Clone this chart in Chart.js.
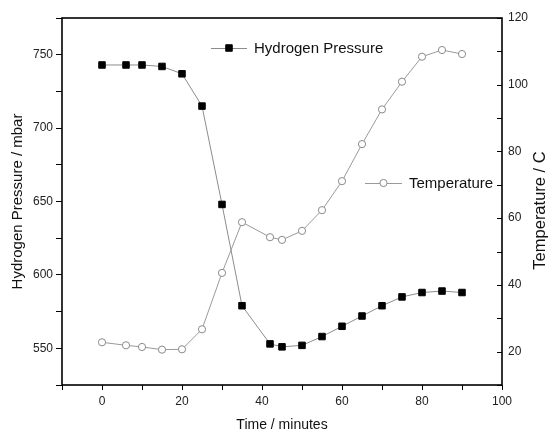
<!DOCTYPE html>
<html>
<head>
<meta charset="utf-8">
<script src="https://cdn.jsdelivr.net/npm/chart.js@4/dist/chart.umd.min.js"></script>
<style>
html,body{margin:0;padding:0;background:#fff;}
canvas{display:block;}
</style>
</head>
<body>
<canvas id="c" width="549" height="432"></canvas>
<script>
const time = [0, 6, 10, 15, 20, 25, 30, 35, 42, 45, 50, 55, 60, 65, 70, 75, 80, 85, 90];
const pressure = [743, 743, 743, 742, 737, 715, 648, 579, 553, 551, 552, 558, 565, 572, 579, 585, 588, 589, 588];
const temperature = [22.8, 21.9, 21.4, 20.6, 20.7, 26.7, 43.6, 58.8, 54.3, 53.5, 56.2, 62.4, 71.1, 82.2, 92.6, 100.9, 108.4, 110.4, 109.2];
const seriesNames = ['Hydrogen Pressure', 'Temperature'];
const axisTitles = {x: 'Time / minutes', y: 'Hydrogen Pressure / mbar', y1: 'Temperature / C'};

const FONT = "'Liberation Sans', Arial, sans-serif";

const framePlugin = {
  id: 'frame',
  afterDraw(chart) {
    const ctx = chart.ctx, a = chart.chartArea;
    ctx.save();
    // inward ticks for right axis
    const s = chart.scales.y1;
    ctx.strokeStyle = '#000';
    ctx.lineWidth = 1;
    s.ticks.forEach(t => {
      const py = Math.round(s.getPixelForValue(t.value)) + 0.5;
      ctx.beginPath();
      ctx.moveTo(a.right - 5, py);
      ctx.lineTo(a.right, py);
      ctx.stroke();
    });
    ctx.lineWidth = 1.6;
    ctx.strokeRect(a.left, a.top, a.right - a.left, a.bottom - a.top);
    // right axis title, reading bottom-to-top
    ctx.translate(s.right - 9, (a.top + a.bottom) / 2 + 9);
    ctx.rotate(-Math.PI / 2);
    ctx.fillStyle = '#111';
    ctx.font = '16.5px ' + FONT;
    ctx.textAlign = 'center';
    ctx.textBaseline = 'middle';
    ctx.fillText(axisTitles.y1, 0, 0);
    ctx.restore();
  }
};

const legendPlugin = {
  id: 'customLegend',
  afterDatasetsDraw(chart, args, opts) {
    const ctx = chart.ctx;
    ctx.save();
    opts.items.forEach((it) => {
      const ds = chart.data.datasets[it.index];
      ctx.strokeStyle = ds.borderColor;
      ctx.lineWidth = 1;
      ctx.beginPath();
      ctx.moveTo(it.x1, it.y + 0.5);
      ctx.lineTo(it.x2, it.y + 0.5);
      ctx.stroke();
      const cx = (it.x1 + it.x2) / 2;
      ctx.fillStyle = ds.pointBackgroundColor;
      ctx.strokeStyle = ds.pointBorderColor;
      ctx.lineWidth = ds.pointBorderWidth;
      ctx.beginPath();
      if (ds.pointStyle === 'rect') {
        const h = ds.pointRadius * Math.SQRT1_2;
        ctx.rect(cx - h, it.y - h, 2 * h, 2 * h);
      } else {
        ctx.arc(cx, it.y, ds.pointRadius, 0, Math.PI * 2);
      }
      ctx.fill();
      ctx.stroke();
      ctx.fillStyle = '#111';
      ctx.font = '15px ' + FONT;
      ctx.textBaseline = 'middle';
      ctx.textAlign = 'left';
      ctx.fillText(ds.label, it.tx, it.y + 1);
    });
    ctx.restore();
  }
};

new Chart(document.getElementById('c'), {
  type: 'line',
  data: {
    datasets: [
      {
        label: seriesNames[0],
        data: time.map((t, i) => ({x: t, y: pressure[i]})),
        yAxisID: 'y',
        borderColor: '#8c8c8c',
        borderWidth: 1,
        pointStyle: 'rect',
        pointRadius: 4.6,
        pointBorderWidth: 1,
        pointBackgroundColor: '#000',
        pointBorderColor: '#000',
        tension: 0
      },
      {
        label: seriesNames[1],
        data: time.map((t, i) => ({x: t, y: temperature[i]})),
        yAxisID: 'y1',
        borderColor: '#9a9a9a',
        borderWidth: 1,
        pointStyle: 'circle',
        pointRadius: 3.6,
        pointBorderWidth: 1,
        pointBackgroundColor: '#fff',
        pointBorderColor: '#8a8a8a',
        tension: 0
      }
    ]
  },
  options: {
    responsive: false,
    animation: false,
    devicePixelRatio: 1,
    layout: {padding: {top: 18, left: 0, right: 0, bottom: 0}},
    plugins: {
      legend: {display: false},
      tooltip: {enabled: false},
      customLegend: {
        items: [
          {index: 0, x1: 211, x2: 247, y: 48, tx: 254},
          {index: 1, x1: 365, x2: 402, y: 183, tx: 409}
        ]
      }
    },
    scales: {
      x: {
        type: 'linear',
        min: -10, max: 100,
        afterFit(s) { s.height = 47; },
        border: {display: false},
        grid: {drawOnChartArea: false, color: '#000', tickLength: 5, lineWidth: 1},
        ticks: {
          stepSize: 10,
          padding: 4,
          color: '#222',
          font: {family: FONT, size: 12},
          maxRotation: 0,
          autoSkip: false,
          callback: v => (v % 20 === 0 ? String(v) : '')
        },
        title: {
          display: true, text: axisTitles.x, color: '#111',
          font: {family: FONT, size: 14, lineHeight: 1},
          padding: {top: 0, bottom: 0}
        }
      },
      y: {
        type: 'linear',
        position: 'left',
        min: 525, max: 775,
        afterFit(s) { s.width = 62; },
        border: {display: false},
        grid: {drawOnChartArea: false, color: '#000', tickLength: 6, lineWidth: 1},
        ticks: {
          stepSize: 25,
          padding: 3,
          color: '#222',
          font: {family: FONT, size: 12},
          autoSkip: false,
          callback: v => (v % 50 === 0 ? String(v) : '')
        },
        title: {
          display: true, text: axisTitles.y, color: '#111',
          font: {family: FONT, size: 15, lineHeight: 1},
          padding: {top: 10, bottom: 0}
        }
      },
      y1: {
        type: 'linear',
        position: 'right',
        min: 10, max: 120,
        afterFit(s) { s.width = 47; },
        border: {display: false},
        grid: {drawOnChartArea: false, drawTicks: false},
        ticks: {
          stepSize: 10,
          padding: 6,
          color: '#222',
          font: {family: FONT, size: 12},
          autoSkip: false,
          callback: v => (v % 20 === 0 ? String(v) : '')
        },
        title: {display: false, text: axisTitles.y1}
      }
    }
  },
  plugins: [framePlugin, legendPlugin]
});
</script>
</body>
</html>
